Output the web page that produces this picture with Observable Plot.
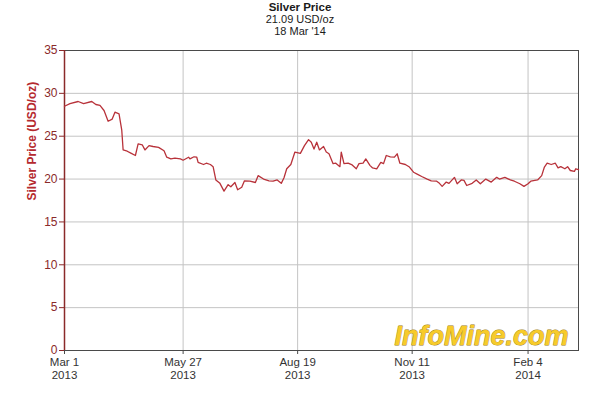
<!DOCTYPE html>
<html><head><meta charset="utf-8">
<script src="https://cdn.jsdelivr.net/npm/d3@7"></script>
<script src="https://cdn.jsdelivr.net/npm/@observablehq/plot@0.6"></script>
<style>
body{margin:0;background:#fff;font-family:"Liberation Sans",Arial,sans-serif;}
#title{width:600px;height:44px;text-align:center;font-size:11px;line-height:12px;color:#1a1a1a;padding-top:1px;box-sizing:border-box}
#title b{font-size:11.5px}
</style></head><body>
<div id="title"><div><b>Silver Price</b></div><div>21.09 USD/oz</div><div>18 Mar '14</div></div>
<div id="chart"></div>
<script>
const dates = [
"2013-03-01","2013-03-05","2013-03-11","2013-03-15","2013-03-21","2013-03-24","2013-03-27","2013-03-30",
"2013-04-02","2013-04-05","2013-04-07","2013-04-10","2013-04-12","2013-04-13","2013-04-16","2013-04-19",
"2013-04-22","2013-04-24","2013-04-27","2013-04-29","2013-05-02","2013-05-05","2013-05-09","2013-05-13",
"2013-05-15","2013-05-18","2013-05-21","2013-05-25","2013-05-27","2013-05-31","2013-06-01","2013-06-04",
"2013-06-06","2013-06-07","2013-06-11","2013-06-13","2013-06-16","2013-06-18","2013-06-20","2013-06-23",
"2013-06-26","2013-06-29","2013-07-01","2013-07-04","2013-07-06","2013-07-09","2013-07-11","2013-07-15",
"2013-07-19","2013-07-21","2013-07-25","2013-07-29","2013-08-01","2013-08-04","2013-08-07","2013-08-09",
"2013-08-11","2013-08-14","2013-08-17","2013-08-21","2013-08-24","2013-08-27","2013-08-29","2013-08-31",
"2013-09-02","2013-09-04","2013-09-07","2013-09-09","2013-09-11","2013-09-14","2013-09-16","2013-09-19",
"2013-09-20","2013-09-22","2013-09-25","2013-09-28","2013-10-01","2013-10-03","2013-10-06","2013-10-08",
"2013-10-11","2013-10-13","2013-10-16","2013-10-19","2013-10-21","2013-10-23","2013-10-26","2013-10-29",
"2013-10-31","2013-11-02","2013-11-06","2013-11-09","2013-11-12","2013-11-15","2013-11-18","2013-11-22",
"2013-11-25","2013-11-29","2013-12-01","2013-12-03","2013-12-06","2013-12-08","2013-12-12","2013-12-14",
"2013-12-17","2013-12-19","2013-12-21","2013-12-25","2013-12-28","2013-12-31","2014-01-04","2014-01-08",
"2014-01-12","2014-01-14","2014-01-18","2014-01-22","2014-01-25","2014-01-29","2014-02-01","2014-02-04",
"2014-02-06","2014-02-11","2014-02-14","2014-02-16","2014-02-18","2014-02-21","2014-02-24","2014-02-26",
"2014-02-28","2014-03-03","2014-03-05","2014-03-07","2014-03-10","2014-03-11","2014-03-13"
];
const prices = [
28.5,28.8,29.05,28.8,29.05,28.7,28.6,28.0,
26.75,27.0,27.8,27.6,25.7,23.4,23.25,23.0,
22.75,24.1,24.0,23.4,23.9,23.8,23.7,23.3,
22.55,22.35,22.45,22.35,22.2,22.55,22.35,22.6,
22.55,21.95,21.7,21.85,21.7,21.45,19.9,19.5,
18.6,19.35,19.1,19.6,18.75,19.05,19.8,19.75,
19.6,20.4,20.0,19.8,19.75,19.9,19.5,20.15,
21.2,21.7,23.15,23.0,23.9,24.6,24.3,23.5,
24.3,23.4,23.8,23.15,22.95,21.8,21.85,21.45,
23.15,21.8,21.85,21.65,21.2,21.8,21.85,22.35,
21.6,21.3,21.2,21.95,21.8,22.75,22.6,22.55,
22.95,21.85,21.7,21.4,20.8,20.55,20.3,20.0,
19.8,19.75,19.5,19.15,19.65,19.5,20.2,19.45,
19.9,19.85,19.25,19.5,19.9,19.45,20.0,19.65,
20.2,20.0,20.2,19.9,19.75,19.45,19.15,19.45,
19.75,19.9,20.4,21.4,21.85,21.7,21.85,21.3,
21.45,21.2,21.45,21.0,20.9,21.2,21.09
];
const yTicks = [0,5,10,15,20,25,30,35];
const xTickDates = ["2013-03-01","2013-05-27","2013-08-19","2013-11-11","2014-02-04"];
const xTickLabels = ["Mar 1\n2013","May 27\n2013","Aug 19\n2013","Nov 11\n2013","Feb 4\n2014"];
const xDomain = ["2013-03-01","2014-03-13"];
const yLabel = "Silver Price (USD/oz)";
const watermark = "InfoMine.com";

const parse = d3.utcParse("%Y-%m-%d");
const data = dates.map((d, i) => ({date: parse(d), price: prices[i]}));
const tickDates = xTickDates.map(parse);
const labelOf = new Map(tickDates.map((d, i) => [+d, xTickLabels[i]]));

const chart = Plot.plot({
  width: 600,
  height: 356,
  marginTop: 6,
  marginBottom: 50,
  marginLeft: 64,
  marginRight: 22,
  style: {fontFamily: "'Liberation Sans', Arial, sans-serif", background: "#fff"},
  x: {type: "utc", domain: xDomain.map(parse)},
  y: {domain: [0, 35]},
  marks: [
    Plot.gridX(tickDates, {stroke: "#c4c4c4", strokeOpacity: 1}),
    Plot.gridY(yTicks, {stroke: "#c4c4c4", strokeOpacity: 1}),
    Plot.frame({stroke: "#4a4a4a"}),
    Plot.ruleX([parse(xDomain[0])], {stroke: "#8b2a2a", strokeWidth: 1.5}),
    Plot.axisY(yTicks, {tickSize: 5, tickPadding: 2, color: "#8b2a2a", fontSize: 12, label: null}),
    Plot.axisX(tickDates, {tickSize: 4, stroke: "#4a4a4a", label: null, text: null}),
    Plot.text(tickDates, {x: d => d, text: d => labelOf.get(+d), frameAnchor: "bottom", lineAnchor: "top", dy: 7, fill: "#333", fontSize: 11.5, lineHeight: 1.1}),
    Plot.text([yLabel], {frameAnchor: "left", dx: -32, rotate: -90, fill: "#b52a2f", fontWeight: "bold", fontSize: 12}),
    Plot.line(data, {x: "date", y: "price", stroke: "#b8323a", strokeWidth: 1.3}),
    Plot.text([watermark], {frameAnchor: "bottom-right", dx: -10, dy: -6, lineAnchor: "bottom", textAnchor: "end", fill: "#f7cb2a", stroke: "#9a7a10", strokeWidth: 0.8, paintOrder: "stroke", fontWeight: "bold", fontStyle: "italic", fontSize: 27})
  ]
});
document.getElementById("chart").appendChild(chart);
</script>
</body></html>
